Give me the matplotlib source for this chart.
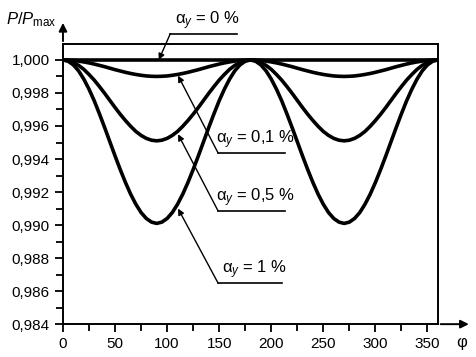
import matplotlib.pyplot as plt
from matplotlib.ticker import MultipleLocator, FuncFormatter

plt.rcParams['font.family'] = ['Liberation Sans', 'DejaVu Sans']
plt.rcParams['mathtext.fontset'] = 'custom'
plt.rcParams['mathtext.rm'] = 'Liberation Sans'
plt.rcParams['mathtext.it'] = 'Liberation Sans:italic'

# angle phi in degrees, curves read every 5 degrees
phi = list(range(0, 361, 5))

p_0 = [1.0] * 73
p_01 = [1.0, 0.99999, 0.99997, 0.99993, 0.99988, 0.99982, 0.99975, 0.99967, 0.99959, 0.99950,
        0.99941, 0.99933, 0.99925, 0.99918, 0.99912, 0.99907, 0.99903, 0.99901, 0.99900,
        0.99901, 0.99903, 0.99907, 0.99912, 0.99918, 0.99925, 0.99933, 0.99941, 0.99950,
        0.99959, 0.99967, 0.99975, 0.99982, 0.99988, 0.99993, 0.99997, 0.99999, 1.0,
        0.99999, 0.99997, 0.99993, 0.99988, 0.99982, 0.99975, 0.99967, 0.99959, 0.99950,
        0.99941, 0.99933, 0.99925, 0.99918, 0.99912, 0.99907, 0.99903, 0.99901, 0.99900,
        0.99901, 0.99903, 0.99907, 0.99912, 0.99918, 0.99925, 0.99933, 0.99941, 0.99950,
        0.99959, 0.99967, 0.99975, 0.99982, 0.99988, 0.99993, 0.99997, 0.99999, 1.0]
p_05 = [1.0, 0.99996, 0.99985, 0.99967, 0.99943, 0.99912, 0.99878, 0.99839, 0.99798, 0.99755,
        0.99712, 0.99671, 0.99633, 0.99598, 0.99567, 0.99543, 0.99525, 0.99514, 0.99510,
        0.99514, 0.99525, 0.99543, 0.99567, 0.99598, 0.99633, 0.99671, 0.99712, 0.99755,
        0.99798, 0.99839, 0.99878, 0.99912, 0.99943, 0.99967, 0.99985, 0.99996, 1.0,
        0.99996, 0.99985, 0.99967, 0.99943, 0.99912, 0.99878, 0.99839, 0.99798, 0.99755,
        0.99712, 0.99671, 0.99633, 0.99598, 0.99567, 0.99543, 0.99525, 0.99514, 0.99510,
        0.99514, 0.99525, 0.99543, 0.99567, 0.99598, 0.99633, 0.99671, 0.99712, 0.99755,
        0.99798, 0.99839, 0.99878, 0.99912, 0.99943, 0.99967, 0.99985, 0.99996, 1.0]
p_1 = [1.0, 0.99992, 0.99970, 0.99934, 0.99884, 0.99823, 0.99753, 0.99674, 0.99591, 0.99505,
       0.99419, 0.99336, 0.99258, 0.99187, 0.99126, 0.99076, 0.99040, 0.99018, 0.99010,
       0.99018, 0.99040, 0.99076, 0.99126, 0.99187, 0.99258, 0.99336, 0.99419, 0.99505,
       0.99591, 0.99674, 0.99753, 0.99823, 0.99884, 0.99934, 0.99970, 0.99992, 1.0,
       0.99992, 0.99970, 0.99934, 0.99884, 0.99823, 0.99753, 0.99674, 0.99591, 0.99505,
       0.99419, 0.99336, 0.99258, 0.99187, 0.99126, 0.99076, 0.99040, 0.99018, 0.99010,
       0.99018, 0.99040, 0.99076, 0.99126, 0.99187, 0.99258, 0.99336, 0.99419, 0.99505,
       0.99591, 0.99674, 0.99753, 0.99823, 0.99884, 0.99934, 0.99970, 0.99992, 1.0]

fig = plt.figure(figsize=(4.77, 3.57), dpi=100)
ax = fig.add_axes([0.132, 0.092, 0.786, 0.785])

for y in (p_0, p_01, p_05, p_1):
    ax.plot(phi, y, color='black', lw=2.6, solid_joinstyle='round', solid_capstyle='round')

ax.set_xlim(0, 360)
ax.set_ylim(0.984, 1.00097)
ax.xaxis.set_major_locator(MultipleLocator(50))
ax.xaxis.set_minor_locator(MultipleLocator(25))
ax.yaxis.set_major_locator(MultipleLocator(0.002))
ax.yaxis.set_minor_locator(MultipleLocator(0.001))
ax.yaxis.set_major_formatter(FuncFormatter(lambda v, p: f'{v:.3f}'.replace('.', ',')))
ax.tick_params(which='both', direction='out', width=1.3, labelsize=11)
ax.tick_params(which='major', length=6)
ax.tick_params(which='minor', length=5)
for s in ax.spines.values():
    s.set_linewidth(1.4)

# axis arrows
ax.annotate('', xy=(1.09, 0), xytext=(1.0, 0), xycoords='axes fraction',
            arrowprops=dict(arrowstyle='-|>', color='black', lw=1.4, mutation_scale=12))
ax.annotate('', xy=(0, 1.085), xytext=(0, 1.0), xycoords='axes fraction',
            arrowprops=dict(arrowstyle='-|>', color='black', lw=1.4, mutation_scale=12))
fig.text(0.968, 0.042, 'φ', fontsize=12, ha='center', va='center')
fig.text(0.012, 0.945, r'$P/P_{\mathrm{max}}$', fontsize=12, ha='left', va='center',
         fontweight='bold')

# labels with leader lines
labels = ['α$_y$ = 0 %', 'α$_y$ = 0,1 %', 'α$_y$ = 0,5 %', 'α$_y$ = 1 %']
tips = [(92, 1.0), (110.5, 0.99905), (110.5, 0.99550), (110.5, 0.99100)]
under_y = [1.00158, 0.99436, 0.99085, 0.98648]
under_x = [(103, 167), (149, 213), (149, 213), (149, 210)]
for lab, (tx, ty), uy, (x0, x1) in zip(labels, tips, under_y, under_x):
    ax.plot([x0, x1], [uy, uy], color='black', lw=1.2, clip_on=False)
    ax.annotate('', xy=(tx, ty), xytext=(x0, uy), annotation_clip=False,
                arrowprops=dict(arrowstyle='-|>', color='black', lw=1.0, mutation_scale=9,
                                shrinkA=0, shrinkB=0))
    ax.text((x0 + x1) / 2 + 4, uy + 0.00012, lab, fontsize=12, ha='center', va='bottom')

fig.savefig('out.png', dpi=100)
